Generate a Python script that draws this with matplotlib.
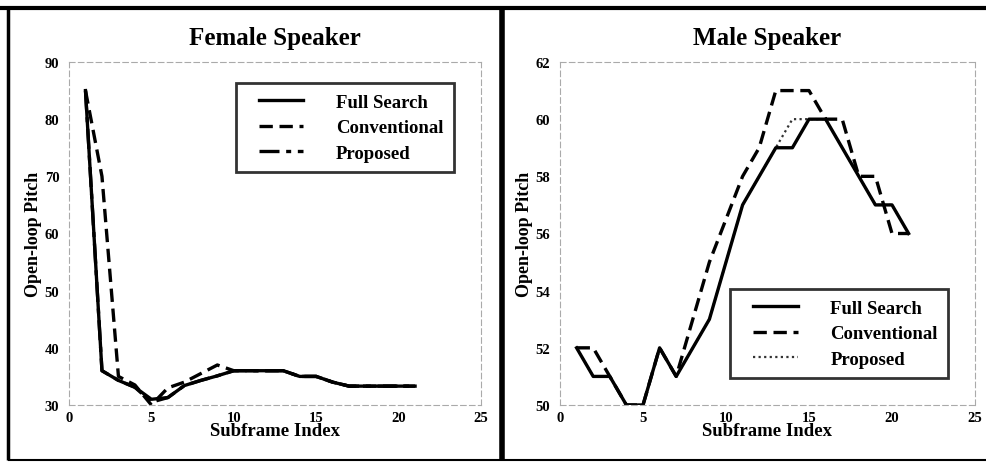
import matplotlib
matplotlib.use("Agg")
import matplotlib.pyplot as plt
from matplotlib.lines import Line2D
from matplotlib.legend_handler import HandlerBase

plt.rcParams['font.family'] = ['Liberation Serif', 'DejaVu Serif']
plt.rcParams['font.weight'] = 'bold'

subframes = list(range(1, 22))

# Female speaker open-loop pitch
female_full = [85, 36, 34.3, 33.1, 31, 31.3, 33.4, 34.3, 35.1, 36, 36, 36, 36, 35, 35, 34, 33.3, 33.3, 33.3, 33.3, 33.3]
female_conv = [85, 70, 35, 33.5, 30, 33, 34, 35.5, 37, 36, 36, 36, 36, 35, 35, 34, 33.3, 33.3, 33.3, 33.3, 33.3]
female_prop = [85, 36, 34.3, 33.1, 30.5, 31.3, 33.4, 34.3, 35.1, 36, 36, 36, 36, 35, 35, 34, 33.3, 33.3, 33.3, 33.3, 33.3]

# Male speaker open-loop pitch
male_full = [52, 51, 51, 50, 50, 52, 51, 52, 53, 55, 57, 58, 59, 59, 60, 60, 59, 58, 57, 57, 56]
male_conv = [52, 52, 51, 50, 50, 52, 51, 53, 55, 56.5, 58, 59, 61, 61, 61, 60, 60, 58, 58, 56, 56]
male_prop = [52, 51, 51, 50, 50, 52, 51, 52, 53, 55, 57, 58, 59, 60, 60, 60, 59, 58, 57, 57, 56]

series_names = ['Full Search', 'Conventional', 'Proposed']
x_ticks = [0, 5, 10, 15, 20, 25]
female_yticks = [30, 40, 50, 60, 70, 80, 90]
male_yticks = [50, 52, 54, 56, 58, 60, 62]

fig = plt.figure(figsize=(9.87, 4.64), dpi=100)

# Panel frames
frame_kw = dict(transform=fig.transFigure, color='black', solid_capstyle='butt')
fig.add_artist(Line2D([0.0, 1.0], [1 - 9 / 464, 1 - 9 / 464], lw=3.0, **frame_kw))
fig.add_artist(Line2D([8.5 / 987, 8.5 / 987], [1 - 9 / 464, 1 - 461 / 464], lw=2.5, **frame_kw))
fig.add_artist(Line2D([502 / 987, 502 / 987], [1 - 9 / 464, 1 - 461 / 464], lw=4.0, **frame_kw))
fig.add_artist(Line2D([8.5 / 987, 1.0], [1 - 461 / 464, 1 - 461 / 464], lw=1.5, **frame_kw))

ax1 = fig.add_axes([69 / 987, 1 - 406 / 464, (481 - 69) / 987, (406 - 63) / 464])
ax2 = fig.add_axes([560 / 987, 1 - 406 / 464, (975 - 560) / 987, (406 - 63) / 464])


class InsetLineHandler(HandlerBase):
    """Legend handle that draws the line sample over the right part of the handle box."""

    def __init__(self, start=0.22, **kw):
        super().__init__(**kw)
        self.start = start

    def create_artists(self, legend, orig_handle, xdescent, ydescent,
                       width, height, fontsize, trans):
        y = height / 2 - ydescent
        line = Line2D([-xdescent + width * self.start, -xdescent + width], [y, y])
        line.update_from(orig_handle)
        line.set_transform(trans)
        return [line]


def style_axes(ax, yticks, title):
    ax.set_xlim(0, 25)
    ax.set_ylim(yticks[0], yticks[-1])
    ax.set_xticks(x_ticks)
    ax.set_yticks(yticks)
    ax.tick_params(length=0, labelsize=10.5, pad=4)
    ax.tick_params(axis='y', pad=7)
    for lab in ax.get_xticklabels() + ax.get_yticklabels():
        lab.set_fontweight('bold')
    for sp in ax.spines.values():
        sp.set_color('#aaaaaa')
        sp.set_linewidth(0.8)
        sp.set_linestyle((0, (5, 3)))
    ax.set_xlabel('Subframe Index', fontsize=13.5, fontweight='bold', labelpad=-1)
    ax.set_ylabel('Open-loop Pitch', fontsize=13, fontweight='bold', labelpad=2)
    ax.set_title(title, fontsize=18, fontweight='bold', pad=13)


lw = 2.4
ax1.plot(subframes, female_prop, color='black', lw=lw, ls=(0, (6, 2, 1.5, 2)))
ax1.plot(subframes, female_conv, color='black', lw=lw, ls=(0, (4, 2)))
ax1.plot(subframes, female_full, color='black', lw=lw, ls='-')
style_axes(ax1, female_yticks, 'Female Speaker')

ax2.plot(subframes, male_prop, color='#333333', lw=1.6, ls=(0, (1, 1.5)))
ax2.plot(subframes, male_conv, color='black', lw=lw, ls=(0, (4, 2)))
ax2.plot(subframes, male_full, color='black', lw=lw, ls='-')
style_axes(ax2, male_yticks, 'Male Speaker')

female_handles = [
    Line2D([], [], color='black', lw=lw, ls='-'),
    Line2D([], [], color='black', lw=lw, ls=(0, (4, 2))),
    Line2D([], [], color='black', lw=lw, ls=(0, (6, 2, 1.5, 2))),
]
male_handles = [
    Line2D([], [], color='black', lw=lw, ls='-'),
    Line2D([], [], color='black', lw=lw, ls=(0, (4, 2))),
    Line2D([], [], color='#333333', lw=1.6, ls=(0, (1, 1.5))),
]

leg_kw = dict(loc='upper left', frameon=True, fancybox=False, edgecolor='black',
              prop={'weight': 'bold', 'size': 13.5}, handlelength=3.05,
              handletextpad=1.75, borderpad=0.55, labelspacing=0.45, borderaxespad=0,
              handler_map={Line2D: InsetLineHandler()})

leg1 = ax1.legend(female_handles, series_names, bbox_to_anchor=(0.405, 0.938), **leg_kw)
leg1.get_frame().set_linewidth(2.0)
leg2 = ax2.legend(male_handles, series_names, bbox_to_anchor=(0.410, 0.338), **leg_kw)
leg2.get_frame().set_linewidth(2.0)

fig.savefig('out.png', dpi=100)
